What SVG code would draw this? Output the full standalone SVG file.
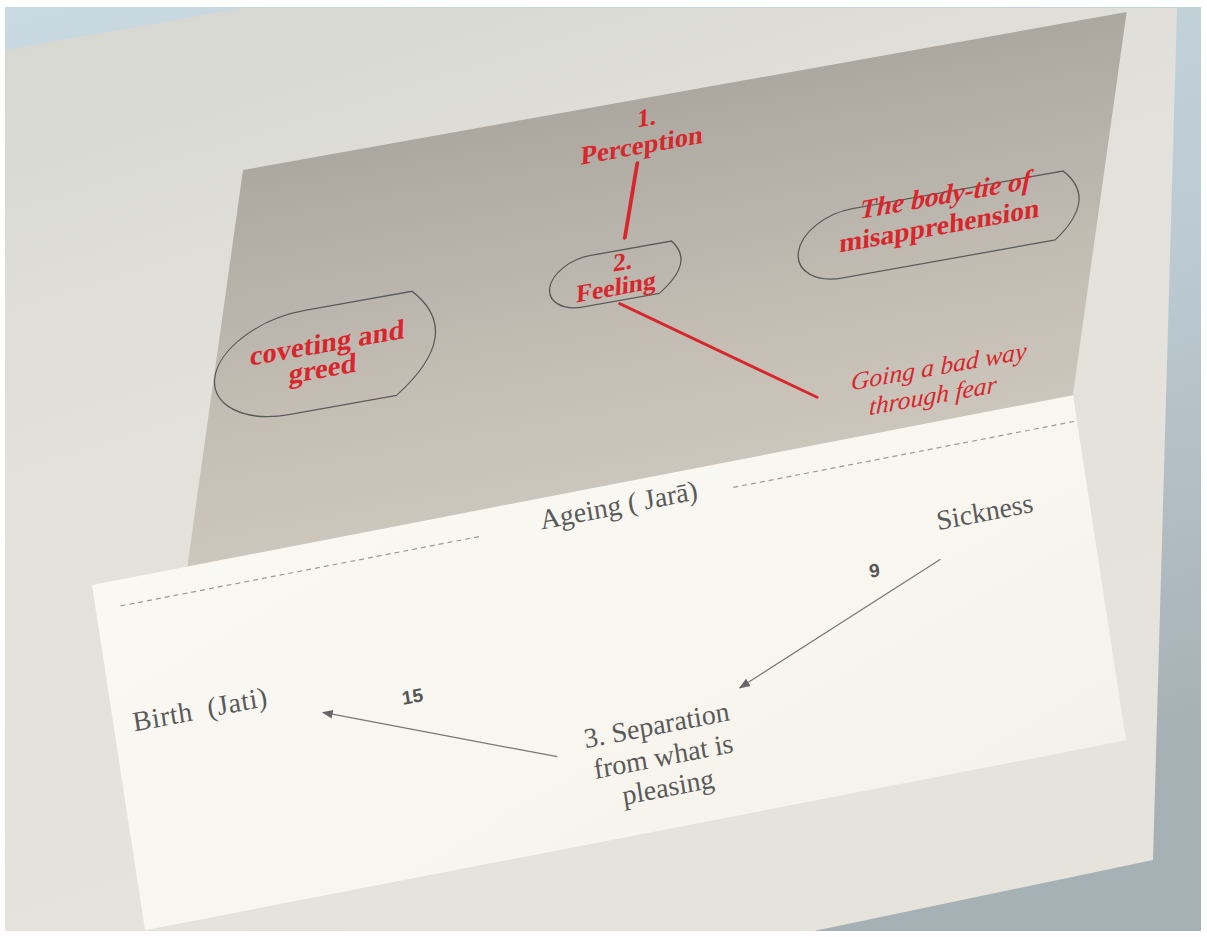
<svg xmlns="http://www.w3.org/2000/svg" width="1207" height="937" viewBox="0 0 1207 937">
  <defs>
    <linearGradient id="sky" x1="0" y1="0" x2="0.3" y2="1">
      <stop offset="0" stop-color="#c9d9e1"/>
      <stop offset="0.5" stop-color="#bccbd2"/>
      <stop offset="1" stop-color="#a6b1b5"/>
    </linearGradient>
    <linearGradient id="boardG" x1="0" y1="0" x2="0.4" y2="1">
      <stop offset="0" stop-color="#d6d7d1"/>
      <stop offset="0.45" stop-color="#e3e1db"/>
      <stop offset="1" stop-color="#e6e3dc"/>
    </linearGradient>
    <linearGradient id="backG" x1="0" y1="0" x2="0" y2="1">
      <stop offset="0" stop-color="#aca8a0"/>
      <stop offset="0.5" stop-color="#c3bdb4"/>
      <stop offset="1" stop-color="#d4ccc1"/>
    </linearGradient>
    <linearGradient id="frontG" x1="0" y1="0" x2="1" y2="1">
      <stop offset="0" stop-color="#f9f8f3"/>
      <stop offset="0.6" stop-color="#f8f6ef"/>
      <stop offset="1" stop-color="#f3f1e9"/>
    </linearGradient>
    <marker id="arr" viewBox="0 0 10 10" refX="9" refY="5" markerWidth="11" markerHeight="11" markerUnits="userSpaceOnUse" orient="auto">
      <path d="M0,1 L10,5 L0,9 z" fill="#666"/>
    </marker>
    <style>
      .red { font-family: "Liberation Serif", "Times New Roman", serif; fill: #d8262d; text-anchor: middle; }
      .b { font-weight: bold; }
      .i { font-style: italic; }
      .grey { font-family: "Liberation Serif", "Times New Roman", serif; fill: #5a5a5a; text-anchor: middle; font-size: 28px; }
      .num { font-family: "Liberation Sans", Arial, sans-serif; font-weight: bold; fill: #555; font-size: 19px; text-anchor: middle; }
      .shape { fill: none; stroke: #595959; stroke-width: 1.3; }
      .redline { stroke: #d8262d; fill: none; stroke-linecap: round; }
      .arrow { stroke: #777; stroke-width: 1.2; fill: none; marker-end: url(#arr); }
      .dash { stroke: #9a9a9a; stroke-width: 1.2; stroke-dasharray: 5 4; fill: none; }
    </style>
  </defs>

  <!-- scene backdrop -->
  <rect x="0" y="0" width="1207" height="937" fill="#ffffff"/>
  <rect x="5" y="7" width="1196" height="924" fill="url(#sky)"/>
  <polygon id="board" points="5,50 244,8 1177,8 1153,860 814,931 5,931" fill="url(#boardG)"/>

  <!-- back (grey) card -->
  <g id="back-card" transform="matrix(0.984,-0.176,-0.139,0.990,243,170)">
    <rect x="0" y="0" width="898" height="500" fill="url(#backG)"/>
    <g id="perception">
      <text class="red b" transform="translate(414,29) skewX(6)" font-size="26">1.</text>
      <text class="red b" transform="translate(413,57) skewX(6)" font-size="27">Perception</text>
    </g>
    <g id="feeling">
      <path class="shape" d="M375,153 L457,153 Q485,179 452,205 L375,205 A38,26 0 0 1 375,153 Z"/>
      <text class="red b" transform="translate(410,174) skewX(6)" font-size="26">2.</text>
      <text class="red b" transform="translate(407,199) skewX(6)" font-size="26">Feeling</text>
    </g>
    <g id="body-tie">
      <path class="shape" d="M641,153 L855,153 Q896,188 857,223 L641,223 A50,35 0 0 1 641,153 Z"/>
      <text class="red b i" transform="translate(737,165) skewX(6)" font-size="28">The body-tie of</text>
      <text class="red b" transform="translate(735,196) skewX(6)" font-size="28">misapprehension</text>
    </g>
    <g id="coveting">
      <path class="shape" d="M85,157 L194,157 Q256,210 193,262 L85,262 A84,52.5 0 0 1 85,157 Z"/>
      <text class="red b" transform="translate(114,204) skewX(6)" font-size="29">coveting and</text>
      <text class="red b" transform="translate(113,230) skewX(6)" font-size="29">greed</text>
    </g>
    <g id="bad-way">
      <text class="red i" transform="translate(755,341) skewX(6)" font-size="26">Going a bad way</text>
      <text class="red i" transform="translate(753,370) skewX(6)" font-size="26">through fear</text>
    </g>
  </g>

  <!-- front (white) card -->
  <g id="front-card" transform="matrix(0.982,-0.190,0.152,0.989,92,585)">
    <rect x="0" y="0" width="999" height="349" fill="url(#frontG)"/>
    <path class="dash" d="M25,26 L391,26 M649,26 L997,26"/>
    <g id="ageing"><text class="grey" x="533" y="31">Ageing ( Jarā)</text></g>
    <g id="sickness"><text class="grey" x="894" y="107">Sickness</text></g>
    <g id="birth"><text class="grey" x="88" y="152" font-size="29" letter-spacing="0.6" style="white-space:pre">Birth  (Jati)</text></g>
    <g id="separation">
      <text class="grey" x="537" y="254">3. Separation</text>
      <text class="grey" x="539" y="286">from what is</text>
      <text class="grey" x="539" y="317">pleasing</text>
    </g>
    <g id="label-9"><text class="num" x="776" y="141">9</text></g>
    <g id="label-15"><text class="num" x="300" y="177">15</text></g>
  </g>

  <!-- connectors -->
  <g id="connectors">
    <g transform="matrix(0.984,-0.176,-0.139,0.990,243,170)">
      <line class="redline" x1="410" y1="66" x2="408" y2="141" stroke-width="4"/>
      <line class="redline" x1="412" y1="208" x2="632" y2="342" stroke-width="2.6"/>
    </g>
    <g transform="matrix(0.982,-0.190,0.152,0.989,92,585)">
      <line class="arrow" x1="843" y1="136" x2="625" y2="224"/>
      <line class="arrow" x1="434" y1="257" x2="209" y2="169"/>
    </g>
  </g>
</svg>
